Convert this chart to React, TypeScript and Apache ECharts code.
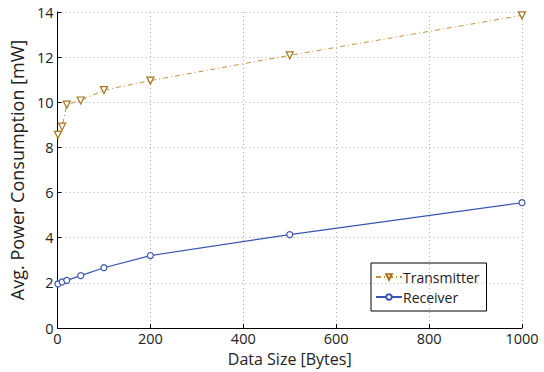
import React, { useEffect, useRef } from "react";
import * as echarts from "echarts";

const dataSizes = [1, 10, 20, 50, 100, 200, 500, 1000];
const transmitter = [8.56, 8.92, 9.9, 10.08, 10.54, 10.96, 12.08, 13.85];
const receiver = [1.95, 2.04, 2.11, 2.32, 2.67, 3.21, 4.14, 5.55];

const FONT = "'Open Sans', 'DejaVu Sans', sans-serif";

export default function App() {
  const ref = useRef<HTMLDivElement>(null);
  useEffect(() => {
    document.body.style.margin = "0";
    const chart = echarts.init(ref.current!, null, { renderer: "svg" });
    const gridLine = { show: true, lineStyle: { color: "#b0b0b0", type: [1, 3] as any, width: 1 } };
    chart.setOption({
      animation: false,
      backgroundColor: "#fff",
      grid: { left: 53, right: 22, top: 12, bottom: 42, containLabel: false },
      xAxis: {
        type: "value",
        min: 0,
        max: 1000,
        interval: 200,
        name: "Data Size [Bytes]",
        nameLocation: "middle",
        nameGap: 23,
        nameTextStyle: { fontFamily: FONT, fontSize: 16, color: "#222" },
        axisLine: { show: true, onZero: false, lineStyle: { color: "#000", width: 1 } },
        axisTick: { show: true, inside: true, length: 4, lineStyle: { color: "#000" } },
        axisLabel: { fontFamily: FONT, fontSize: 14.5, color: "#222", margin: 3, formatter: (v: number) => String(v) },
        splitLine: gridLine,
      },
      yAxis: {
        type: "value",
        min: 0,
        max: 14,
        interval: 2,
        name: "Avg. Power Consumption [mW]",
        nameLocation: "middle",
        nameGap: 30,
        nameTextStyle: { fontFamily: FONT, fontSize: 18, color: "#222" },
        axisLine: { show: true, onZero: false, lineStyle: { color: "#000", width: 1 } },
        axisTick: { show: true, inside: true, length: 4, lineStyle: { color: "#000" } },
        axisLabel: { fontFamily: FONT, fontSize: 14.5, color: "#222", margin: 4 },
        splitLine: gridLine,
      },
      legend: {
        orient: "vertical",
        left: 371,
        top: 263,
        borderColor: "#000",
        borderWidth: 1,
        padding: [6, 7, 6, 4],
        itemGap: 4,
        itemWidth: 26,
        itemHeight: 7,
        textStyle: { fontFamily: FONT, fontSize: 14, color: "#222", lineHeight: 16, padding: [0, 0, 0, -4] },
        data: ["Transmitter", "Receiver"],
      },
      series: [
        {
          name: "Transmitter",
          type: "line",
          data: dataSizes.map((x, i) => [x, transmitter[i]]),
          symbol: "triangle",
          symbolRotate: 180,
          symbolSize: 7,
          showAllSymbol: true,
          lineStyle: { color: "#c8913a", width: 1, type: [5, 3, 1, 3] as any },
          itemStyle: { color: "#fff", borderColor: "#a8741f", borderWidth: 1.2 },
        },
        {
          name: "Receiver",
          type: "line",
          data: dataSizes.map((x, i) => [x, receiver[i]]),
          symbol: "circle",
          symbolSize: 6,
          showAllSymbol: true,
          lineStyle: { color: "#3a55b0", width: 1.2 },
          itemStyle: { color: "#fff", borderColor: "#3a55b0", borderWidth: 1.2 },
        },
      ],
    });
    return () => chart.dispose();
  }, []);
  return <div ref={ref} style={{ width: 544, height: 372 }} />;
}
